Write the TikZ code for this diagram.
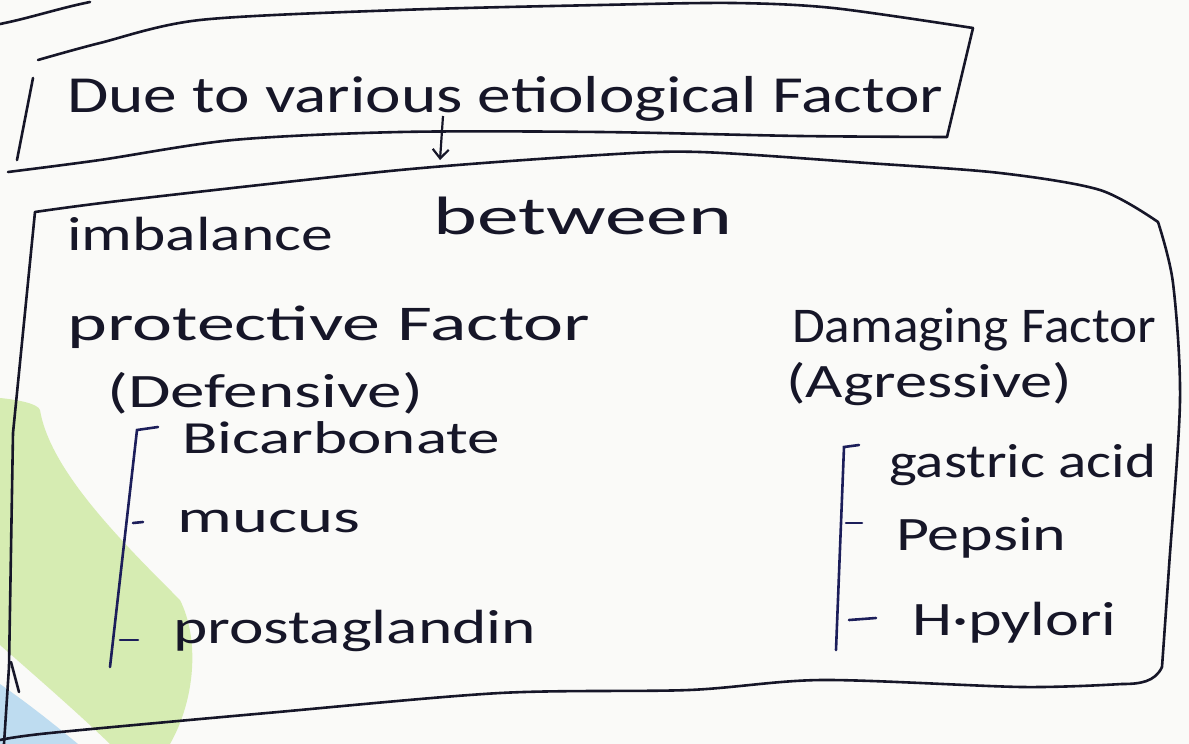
\documentclass[tikz,border=0pt]{standalone}
\usepackage{graphicx}
\usepackage{fontspec}
\setmainfont{Carlito}
\usetikzlibrary{arrows.meta}
\definecolor{ink}{RGB}{22,22,40}
\definecolor{navy}{RGB}{28,30,90}
\definecolor{wmgreen}{RGB}{214,236,178}
\definecolor{wmblue}{RGB}{190,220,240}
\definecolor{paper}{RGB}{250,250,248}
% \hw{font size}{target width}{text}: text at given size, stretched to width
\newcommand\hw[3]{{\fontsize{#1}{#1}\selectfont\setbox0\hbox{#3}\pgfmathsetmacro\hwsx{#2/\the\wd0}\scalebox{\hwsx}[1]{\box0}}}
\begin{document}
\begin{tikzpicture}[x=1pt,y=-1pt,
  txt/.style={anchor=base west, inner sep=0pt, text=ink},
  boxline/.style={draw=ink, line width=2.6pt, line cap=round, line join=round},
  brk/.style={draw=navy, line width=2.6pt, line cap=round},
  arrowline/.style={draw=ink, line width=2.2pt, -{Straight Barb[length=9pt,width=16pt]}}]
\useasboundingbox (0,0) rectangle (1189,744);
\fill[paper] (0,0) rectangle (1189,744);
% watermark
\fill[wmgreen] (0,398) .. controls (20,400) and (38,404) .. (40,410)
  .. controls (50,470) and (120,540) .. (180,600)
  .. controls (200,640) and (195,700) .. (170,744)
  -- (110,744) .. controls (80,715) and (40,680) .. (0,645) -- cycle;
\fill[wmblue] (0,684) .. controls (30,705) and (55,725) .. (78,744) -- (0,744) -- cycle;
% fragment of heading above
\draw[boxline] (0,24) .. controls (30,18) and (60,8) .. (90,2);
% top box
\draw[boxline] plot[smooth, tension=0.5] coordinates {(38,60) (100,43) (200,20) (400,10) (600,5) (733,3) (833,8) (973,28)};
\draw[boxline] (973,28) -- (947,137);
\draw[boxline] plot[smooth, tension=0.5] coordinates {(8,172) (100,160) (233,140) (400,132) (600,132) (800,136) (947,137)};
\draw[boxline] (33,78) -- (17,160);
% lower box
\draw[boxline] plot[smooth, tension=0.5] coordinates {(35,212) (127,200) (400,170) (600,155) (700,152) (867,163) (1000,173) (1100,190) (1158,222)};
\draw[boxline] plot[smooth, tension=0.5] coordinates {(1158,222) (1173,283) (1180,400) (1169,567) (1162,667)};
\draw[boxline] (1162,667) .. controls (1155,682) and (1140,684) .. (1122,684);
\draw[boxline] plot[smooth, tension=0.5] coordinates {(1122,684) (1022,687) (822,680) (689,690) (500,693) (267,713) (50,733) (0,740)};
\draw[boxline] (35,212) -- (13,433) -- (9,667) -- (4,744);
\draw[boxline] (11,662) -- (19,692);
% connector
\coordinate (arrS) at (443,116);
\coordinate (arrE) at (440,160);
\draw[arrowline] (arrS) -- (arrE);
% texts
\node[txt] (due) at (67,112) {\hw{52}{876}{Due to various etiological Factor}};
\node[txt] (imb) at (67,250) {\hw{48}{266}{imbalance}};
\node[txt] (betw) at (433,234) {\hw{54}{299}{between}};
\node[txt] (prot) at (67,340) {\hw{50}{523}{protective Factor}};
\node[txt] (def) at (107,407) {\hw{48}{316}{(Defensive)}};
\node[txt] (bic) at (182,453) {\hw{46}{318}{Bicarbonate}};
\node[txt] (muc) at (177,532) {\hw{46}{183}{mucus}};
\node[txt] (pros) at (173,643) {\hw{48}{363}{prostaglandin}};
\node[txt] (dam) at (792,342) {\hw{50}{364}{Damaging Factor}};
\node[txt] (agr) at (786,397) {\hw{48}{286}{(Agressive)}};
\node[txt] (gas) at (889,477) {\hw{48}{267}{gastric acid}};
\node[txt] (pep) at (896,550) {\hw{48}{170}{Pepsin}};
\node[txt] (hpy) at (912,635) {\hw{48}{204}{H·pylori}};
% brackets
\draw[brk] (158,427) -- (137,430) -- (110,667);
\draw[brk] (133,523) -- (143,522);
\draw[brk] (120,640) -- (138,640);
\draw[brk] (859,445) -- (844,447) -- (836,650);
\draw[brk] (846,523) -- (862,523);
\draw[brk] (849,620) -- (876,618);
\end{tikzpicture}
\end{document}
